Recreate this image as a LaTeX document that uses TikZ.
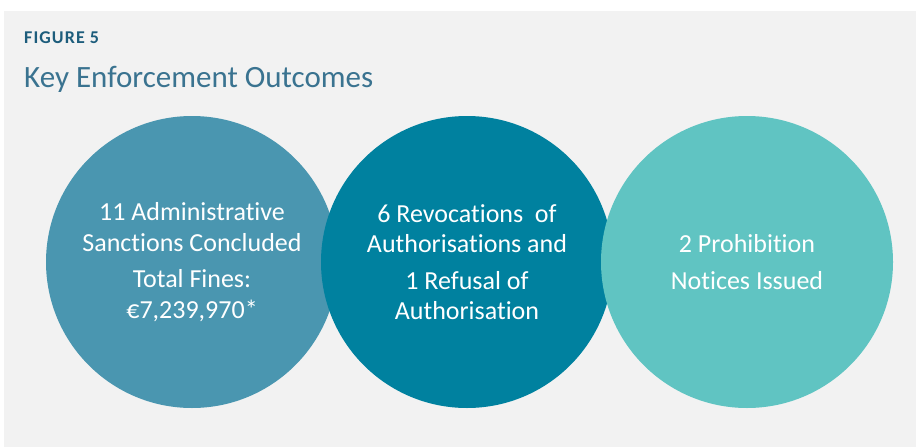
\documentclass[tikz,border=0pt]{standalone}
\usepackage{fontspec}
\setmainfont[Ligatures={NoCommon}]{Carlito}
\usetikzlibrary{positioning}

\definecolor{panelgray}{HTML}{F2F2F2}
\definecolor{headblue}{HTML}{1D5D7C}
\definecolor{titleblue}{HTML}{3A7390}
\definecolor{sanctionblue}{HTML}{4A96B0}
\definecolor{revokeblue}{HTML}{00819F}
\definecolor{prohibitteal}{HTML}{60C4C2}

\begin{document}
\begin{tikzpicture}
      [x = 1pt, y = -1pt,
      bubble/.style= {
         circle,
         inner sep = 0pt,
         minimum size = 292pt,
         text = white,
         align = center,
         font = \fontsize{26}{30.5}\selectfont
      },
      heading/.style= {
         anchor = base west,
         inner sep = 0pt
      }]

      \useasboundingbox (0, 0) rectangle (918, 447);
      \fill[panelgray] (4, 11) rectangle (916, 447);

      \node[heading, text = headblue,
         font = \fontsize{18}{20}\selectfont\bfseries\addfontfeature{LetterSpace=6}]
         (figno) at (24, 43) {FIGURE 5};
      \node[heading, text = titleblue, font = \fontsize{31}{34}\selectfont]
         (title) at (24, 87) {Key Enforcement Outcomes};

      \node[bubble, fill = sanctionblue] (sanctions) at (192, 262)
         {11 Administrative\\Sanctions Concluded\\[6pt]Total Fines:\\€7,239,970*};
      \node[bubble, fill = revokeblue] (revocations) at (467, 262)
         {6 Revocations\ \ of\\Authorisations and\\[6pt]1 Refusal of\\Authorisation};
      \node[bubble, fill = prohibitteal] (prohibitions) at (747, 262)
         {2 Prohibition\\[6pt]Notices Issued};

   \end{tikzpicture}
\end{document}
